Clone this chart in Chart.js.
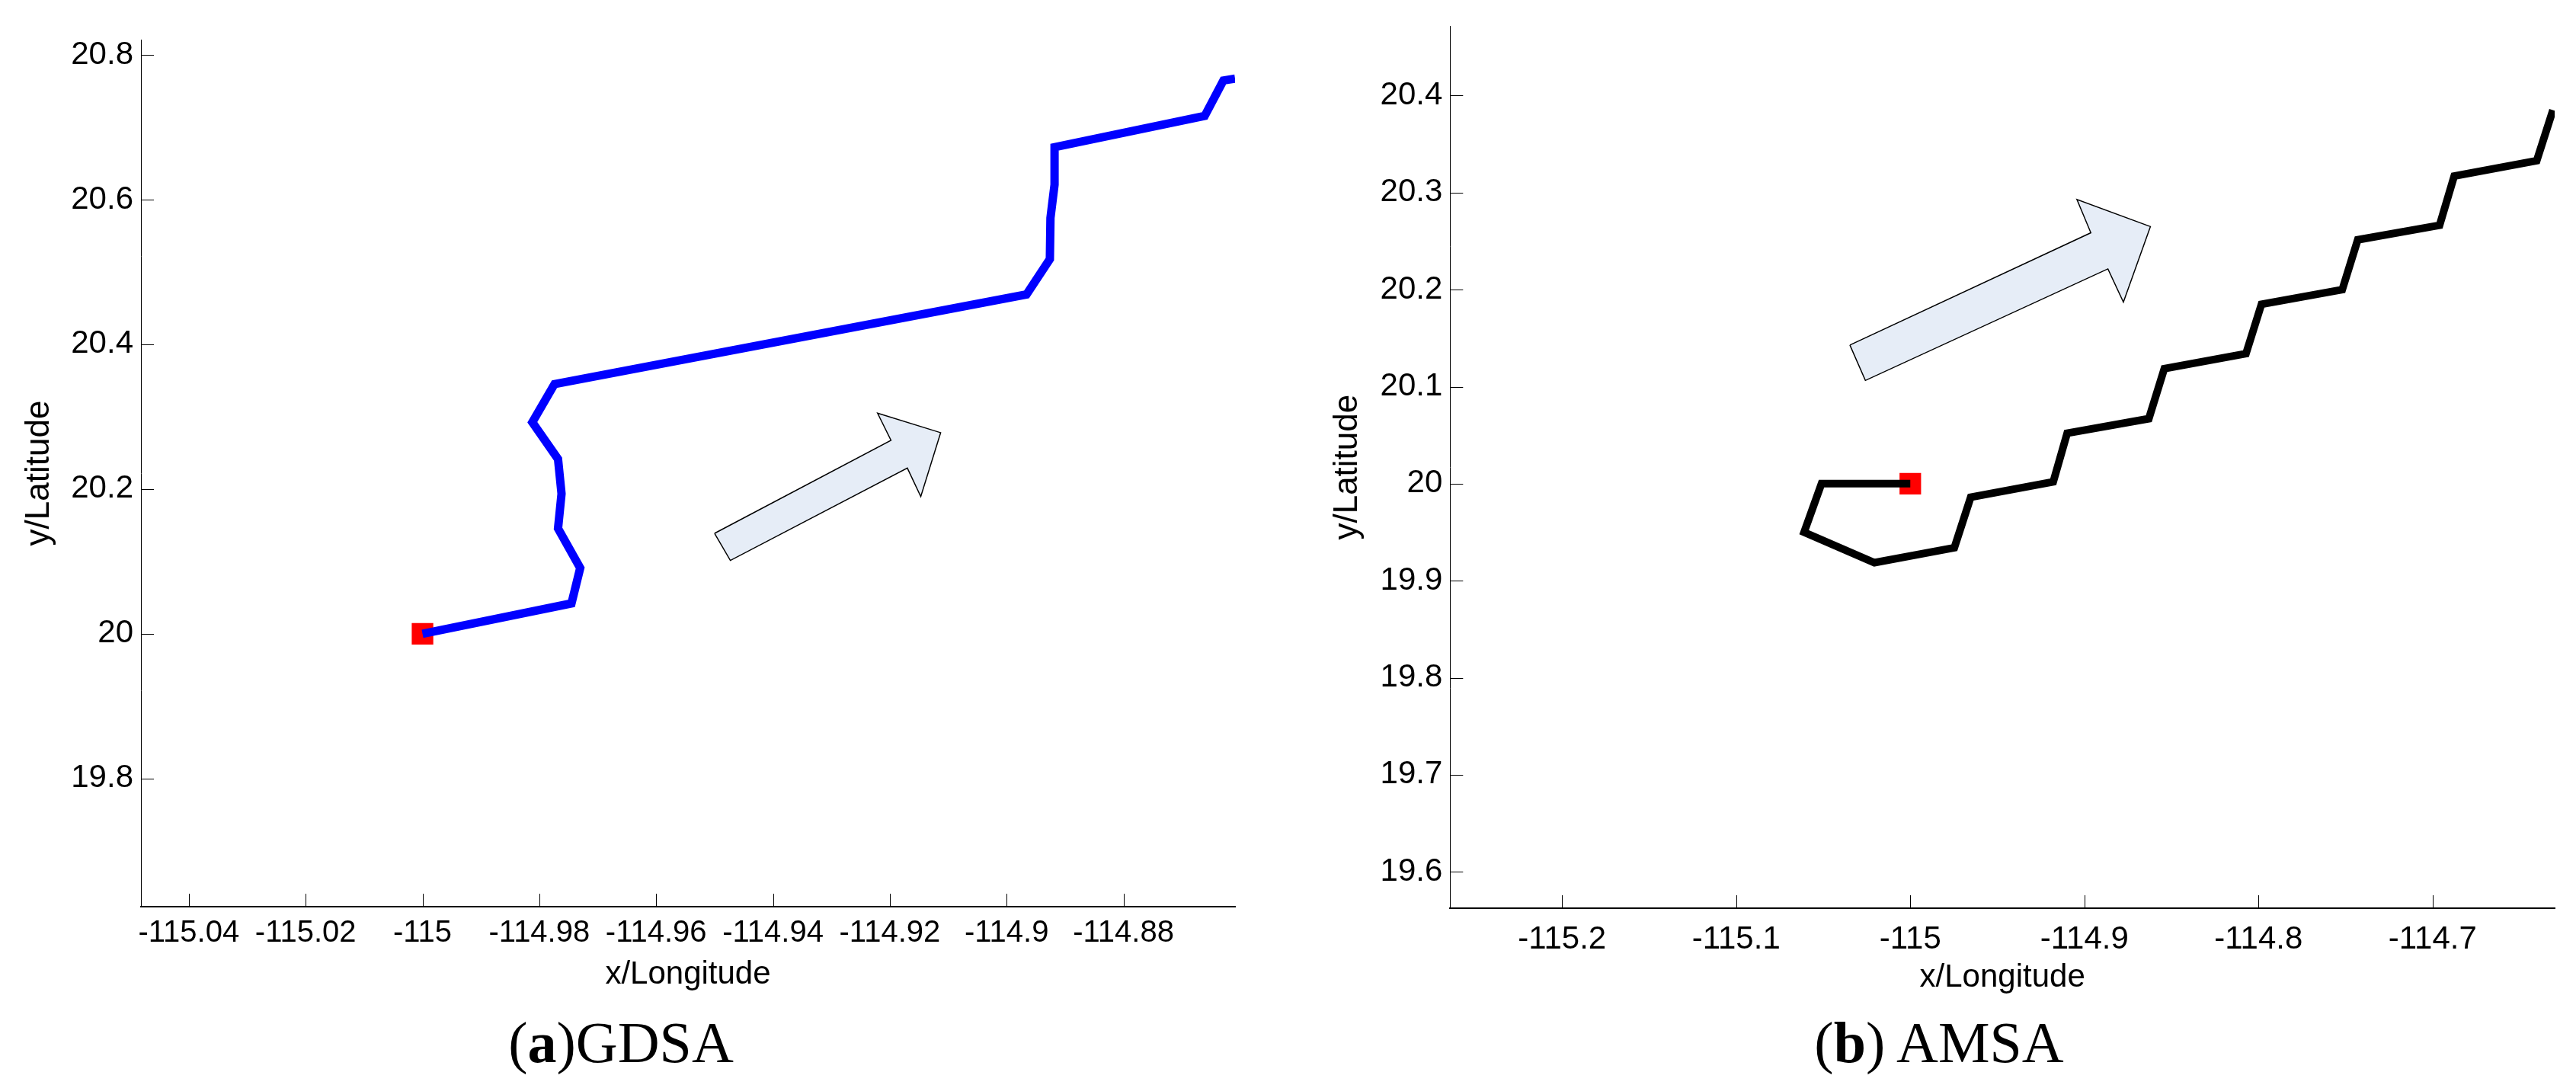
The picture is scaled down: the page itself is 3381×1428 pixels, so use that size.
<!DOCTYPE html>
<html>
<head>
<meta charset="utf-8">
<title>GDSA / AMSA trajectories</title>
<script src="https://cdn.jsdelivr.net/npm/chart.js@4.4.1/dist/chart.umd.min.js"></script>
<style>
    html, body { margin: 0; padding: 0; background: #fff; }
    #page { position: relative; width: 3381px; height: 1428px; overflow: hidden; background: #fff; }
    .panel { position: absolute; top: 0; }
    .caption {
        position: absolute; top: 1330px; width: 600px; text-align: center;
        font-family: 'Liberation Serif', 'Times New Roman', serif;
        font-size: 76px; line-height: 76px; color: #000; white-space: nowrap;
    }
</style>
</head>
<body>
<div id="page">
    <canvas id="gdsaChart" class="panel" width="1700" height="1330" style="left:0"></canvas>
    <canvas id="amsaChart" class="panel" width="1681" height="1330" style="left:1700px"></canvas>
    <div class="caption" style="left:515px">(<b>a</b>)GDSA</div>
    <div class="caption" style="left:2245px">(<b>b</b>) AMSA</div>
</div>
<script>
(function() {
    'use strict';

    // (a) GDSA trajectory
    const gdsaLon = [-115, -114.9745, -114.973, -114.9768, -114.9762, -114.9768, -114.9812, -114.9774,
                     -114.8966, -114.8926, -114.8925, -114.8918, -114.8918, -114.8661, -114.8629, -114.8609];
    const gdsaLat = [20, 20.042, 20.091, 20.1455, 20.1935, 20.2415, 20.2923, 20.3451,
                     20.4689, 20.5178, 20.5745, 20.6205, 20.6724, 20.7155, 20.7645, 20.767];
    const gdsaArrowLon = [-114.95, -114.9198, -114.9221, -114.9113, -114.9147, -114.917, -114.9473, -114.95];
    const gdsaArrowLat = [20.1388, 20.2674, 20.3048, 20.2779, 20.1896, 20.229, 20.1014, 20.1388];
    const gdsaXTicks = [-115.04, -115.02, -115, -114.98, -114.96, -114.94, -114.92, -114.9, -114.88];
    const gdsaXLabels = ['-115.04', '-115.02', '-115', '-114.98', '-114.96', '-114.94', '-114.92', '-114.9', '-114.88'];
    const gdsaYTicks = [19.8, 20, 20.2, 20.4, 20.6, 20.8];
    const gdsaYLabels = ['19.8', '20', '20.2', '20.4', '20.6', '20.8'];

    // (b) AMSA trajectory
    const amsaLon = [-115, -115.051, -115.061, -115.0206, -114.9747, -114.9653, -114.9179, -114.9099, -114.863,
                     -114.8541, -114.8072, -114.7983, -114.7519, -114.743, -114.696, -114.6876, -114.6402, -114.6309];
    const amsaLat = [20, 20, 19.95, 19.9186, 19.934, 19.986, 20.002, 20.052, 20.067,
                     20.1186, 20.134, 20.185, 20.2, 20.2514, 20.2664, 20.317, 20.333, 20.385];
    const amsaArrowLon = [-115.0347, -114.8963, -114.9043, -114.8621, -114.8776, -114.8865, -115.0258, -115.0347];
    const amsaArrowLat = [20.1429, 20.2586, 20.2929, 20.265, 20.1871, 20.2214, 20.1064, 20.1429];
    const amsaXTicks = [-115.2, -115.1, -115, -114.9, -114.8, -114.7];
    const amsaXLabels = ['-115.2', '-115.1', '-115', '-114.9', '-114.8', '-114.7'];
    const amsaYTicks = [19.6, 19.7, 19.8, 19.9, 20, 20.1, 20.2, 20.3, 20.4];
    const amsaYLabels = ['19.6', '19.7', '19.8', '19.9', '20', '20.1', '20.2', '20.3', '20.4'];

    // start position (red square)
    const startLon = [-115];
    const startLat = [20];

    Chart.defaults.font.family = "'Liberation Sans', Arial, sans-serif";
    Chart.defaults.color = '#000';

    const toPoints = (xs, ys) => xs.map((x, i) => ({ x: x, y: ys[i] }));

    // MATLAB style tick marks pointing into the plot area
    const innerTicks = {
        id: 'innerTicks',
        afterDraw(chart) {
            const { ctx, chartArea, scales } = chart;
            const len = 17;
            ctx.save();
            ctx.strokeStyle = '#000';
            ctx.lineWidth = 1;
            ctx.beginPath();
            scales.x.ticks.forEach(t => {
                const px = Math.round(scales.x.getPixelForValue(t.value)) + 0.5;
                ctx.moveTo(px, chartArea.bottom);
                ctx.lineTo(px, chartArea.bottom - len);
            });
            scales.y.ticks.forEach(t => {
                const py = Math.round(scales.y.getPixelForValue(t.value)) + 0.5;
                ctx.moveTo(chartArea.left, py);
                ctx.lineTo(chartArea.left + len, py);
            });
            ctx.stroke();
            ctx.restore();
        }
    };

    function renderPanel(canvasId, cfg) {
        const ctx = document.getElementById(canvasId);
        return new Chart(ctx, {
            type: 'scatter',
            data: {
                datasets: [{
                    data: toPoints(cfg.arrowLon, cfg.arrowLat),
                    showLine: true,
                    fill: 'shape',
                    backgroundColor: '#e6edf7',
                    borderColor: '#000',
                    borderWidth: 1.5,
                    borderJoinStyle: 'miter',
                    pointRadius: 0,
                    order: 3
                }, {
                    data: toPoints(startLon, startLat),
                    pointStyle: 'rect',
                    pointRadius: 20,
                    backgroundColor: '#ff0000',
                    borderWidth: 0,
                    order: 2
                }, {
                    data: toPoints(cfg.lon, cfg.lat),
                    showLine: true,
                    borderColor: cfg.color,
                    borderWidth: cfg.lineWidth,
                    borderJoinStyle: 'miter',
                    borderCapStyle: 'butt',
                    pointRadius: 0,
                    tension: 0,
                    order: 1
                }]
            },
            options: {
                responsive: false,
                animation: false,
                devicePixelRatio: 1,
                layout: { padding: cfg.padding },
                plugins: { legend: { display: false }, tooltip: { enabled: false } },
                scales: {
                    x: {
                        type: 'linear',
                        min: cfg.xMin,
                        max: cfg.xMax,
                        afterBuildTicks: s => { s.ticks = cfg.xTicks.map(v => ({ value: v })); },
                        afterFit: s => { s.height = cfg.xAxisHeight; s.paddingLeft = 0; s.paddingRight = 0; },
                        ticks: {
                            callback: (v, i) => cfg.xLabels[i],
                            font: { size: cfg.xTickSize },
                            padding: cfg.xTickPad,
                            autoSkip: false,
                            maxRotation: 0,
                            color: '#000'
                        },
                        grid: { display: false, drawTicks: false },
                        border: { display: true, color: '#000', width: 2 },
                        title: { display: true, text: 'x/Longitude', font: { size: 42 }, color: '#000', padding: { top: 4, bottom: 4 } }
                    },
                    y: {
                        type: 'linear',
                        min: cfg.yMin,
                        max: cfg.yMax,
                        afterBuildTicks: s => { s.ticks = cfg.yTicks.map(v => ({ value: v })); },
                        afterFit: s => { s.width = cfg.yAxisWidth; s.paddingTop = 0; s.paddingBottom = 0; },
                        ticks: {
                            callback: (v, i) => cfg.yLabels[i],
                            font: { size: 42 },
                            padding: 10,
                            autoSkip: false,
                            color: '#000'
                        },
                        grid: { display: false, drawTicks: false },
                        border: { display: true, color: '#000', width: 1 },
                        title: { display: true, text: 'y/Latitude', font: { size: 44 }, color: '#000', padding: { top: 4, bottom: 4 } }
                    }
                }
            },
            plugins: [innerTicks]
        });
    }

    renderPanel('gdsaChart', {
        lon: gdsaLon, lat: gdsaLat, arrowLon: gdsaArrowLon, arrowLat: gdsaArrowLat,
        xTicks: gdsaXTicks, xLabels: gdsaXLabels, yTicks: gdsaYTicks, yLabels: gdsaYLabels,
        xMin: -115.0482, xMax: -114.8609, yMin: 19.623, yMax: 20.821,
        color: '#0000ff', lineWidth: 11,
        padding: { left: 21.4, top: 52, right: 79, bottom: 21.4 },
        yAxisWidth: 163.6, xAxisHeight: 118.6, xTickSize: 40, xTickPad: 11
    });

    renderPanel('amsaChart', {
        lon: amsaLon, lat: amsaLat, arrowLon: amsaArrowLon, arrowLat: amsaArrowLat,
        xTicks: amsaXTicks, xLabels: amsaXLabels, yTicks: amsaYTicks, yLabels: amsaYLabels,
        xMin: -115.2643, xMax: -114.6299, yMin: 19.5625, yMax: 20.4716,
        color: '#000000', lineWidth: 10,
        padding: { left: 38.4, top: 34.3, right: 28, bottom: 17.4 },
        yAxisWidth: 164.9, xAxisHeight: 120.6, xTickSize: 42, xTickPad: 16
    });
})();
</script>
</body>
</html>
